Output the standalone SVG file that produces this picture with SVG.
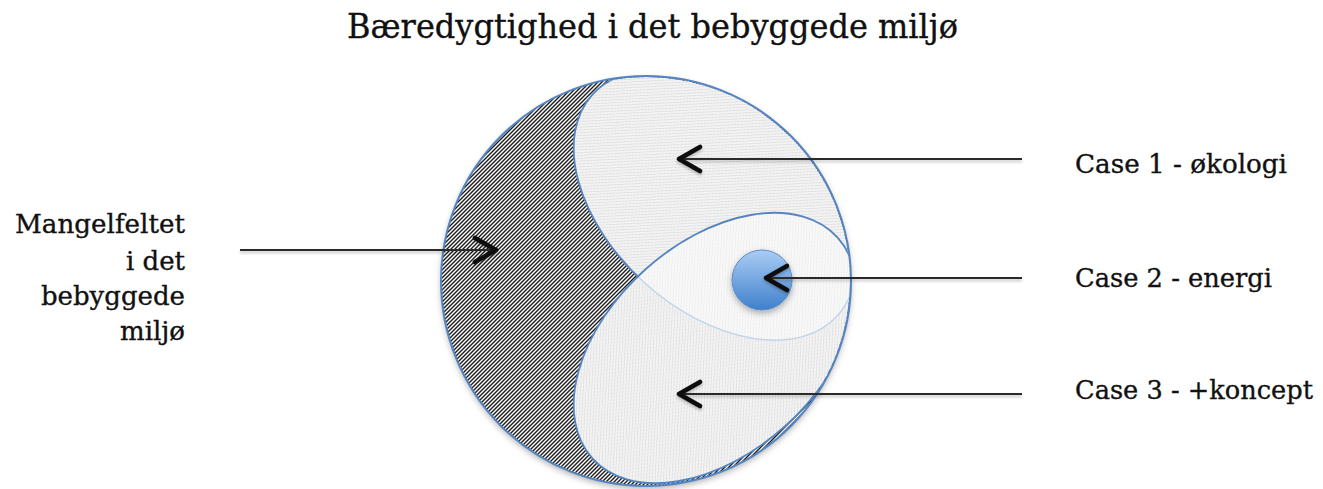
<svg xmlns="http://www.w3.org/2000/svg" width="1323" height="489" viewBox="0 0 1323 489">
<style>
text{font-family:"DejaVu Serif","Liberation Serif",serif;fill:#111;stroke:#111;stroke-width:0.35}
.lbl{font-size:26px}
.title{font-size:33px}
.conn{stroke:#2a2a2a;stroke-width:2.2;fill:none}
.outline{fill:none;stroke:#5585c0;stroke-width:2}
</style>
<defs>
<pattern id="dark" width="4" height="4" patternUnits="userSpaceOnUse">
<rect width="4" height="4" fill="#ffffff"/>
<path d="M-1,1 L1,-1 M0,4 L4,0 M3,5 L5,3" stroke="#1a1a1a" stroke-width="1.4"/>
</pattern>
<pattern id="light" width="4" height="4" patternUnits="userSpaceOnUse">
<rect width="4" height="4" fill="#f3f3f3"/>
<path d="M-1,1 L1,-1 M0,4 L4,0 M3,5 L5,3" stroke="#d9d9d9" stroke-width="0.9"/>
</pattern>
<linearGradient id="blue" x1="0" y1="0" x2="0" y2="1">
<stop offset="0" stop-color="#aacdf4"/>
<stop offset="1" stop-color="#3f80cc"/>
</linearGradient>
<clipPath id="circ"><circle cx="646" cy="281" r="204"/></clipPath>
<clipPath id="lowerClip"><ellipse cx="715" cy="348" rx="165" ry="105" transform="rotate(-42 715 348)"/></clipPath>
<filter id="sh" x="-20%" y="-20%" width="140%" height="150%">
<feDropShadow dx="0" dy="3" stdDeviation="3" flood-color="#000" flood-opacity="0.3"/>
</filter>
<filter id="lsh" x="-5%" y="-100%" width="110%" height="400%">
<feDropShadow dx="0" dy="2" stdDeviation="1.5" flood-color="#000" flood-opacity="0.25"/>
</filter>
<marker id="chev" viewBox="-30 -16 34 32" markerWidth="34" markerHeight="32" refX="0" refY="0" orient="auto" markerUnits="userSpaceOnUse">
<path d="M-23,-12 L-2,0 L-23,12" fill="none" stroke="#111" stroke-width="4.6" stroke-linecap="round" stroke-linejoin="round"/>
</marker>
</defs>

<g id="title"><text class="title" x="652.5" y="38" text-anchor="middle" textLength="611" lengthAdjust="spacingAndGlyphs">Bæredygtighed i det bebyggede miljø</text></g>

<g id="circle-main">
<circle cx="646" cy="281" r="205" fill="url(#dark)" filter="url(#sh)"/>
</g>
<g id="case1-area" clip-path="url(#circ)">
<ellipse cx="715" cy="205" rx="165" ry="105" transform="rotate(42 715 205)" fill="url(#light)" stroke="#5585c0" stroke-width="1.8"/>
</g>
<g id="case3-area" clip-path="url(#circ)">
<ellipse cx="715" cy="348" rx="165" ry="105" transform="rotate(-42 715 348)" fill="url(#light)"/>
<g clip-path="url(#lowerClip)">
<ellipse cx="715" cy="205" rx="165" ry="105" transform="rotate(42 715 205)" fill="#ffffff" fill-opacity="0.45" stroke="#c3d5ea" stroke-width="1.5"/>
</g>
<ellipse cx="715" cy="348" rx="165" ry="105" transform="rotate(-42 715 348)" fill="none" stroke="#5585c0" stroke-width="1.8"/>
</g>
<g id="circle-outline"><circle cx="646" cy="281" r="205" class="outline"/></g>

<g id="case2-dot"><circle cx="762" cy="280" r="30" fill="url(#blue)" stroke="#5a8ccb" stroke-width="1" filter="url(#sh)"/></g>

<g id="connectors" filter="url(#lsh)">
<line class="conn" x1="1022" y1="159" x2="677" y2="159" marker-end="url(#chev)"/>
<line class="conn" x1="1022" y1="278" x2="764" y2="278" marker-end="url(#chev)"/>
<line class="conn" x1="1022" y1="394" x2="677" y2="394" marker-end="url(#chev)"/>
<line class="conn" x1="240" y1="250" x2="498" y2="250" marker-end="url(#chev)"/>
</g>

<g id="label-left">
<text class="lbl" x="185" y="233" text-anchor="end" textLength="170" lengthAdjust="spacingAndGlyphs">Mangelfeltet</text>
<text class="lbl" x="185" y="270" text-anchor="end">i det</text>
<text class="lbl" x="185" y="305" text-anchor="end">bebyggede</text>
<text class="lbl" x="185" y="340" text-anchor="end">miljø</text>
</g>
<g id="label-case1"><text class="lbl" x="1075" y="173" textLength="212" lengthAdjust="spacingAndGlyphs">Case 1 - økologi</text></g>
<g id="label-case2"><text class="lbl" x="1075" y="287" textLength="197" lengthAdjust="spacingAndGlyphs">Case 2 - energi</text></g>
<g id="label-case3"><text class="lbl" x="1075" y="399" textLength="238" lengthAdjust="spacingAndGlyphs">Case 3 - +koncept</text></g>
</svg>
